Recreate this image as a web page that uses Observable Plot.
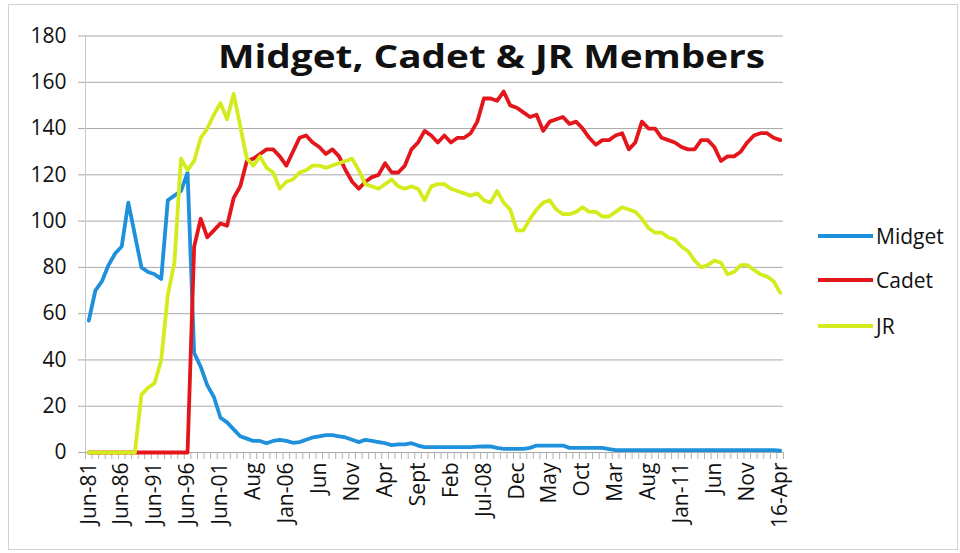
<!DOCTYPE html>
<html>
<head>
<meta charset="utf-8">
<script src="https://cdn.jsdelivr.net/npm/d3@7"></script>
<script src="https://cdn.jsdelivr.net/npm/@observablehq/plot@0.6"></script>
<style>
  html, body { margin: 0; padding: 0; background: #fff; }
  #wrap { position: relative; width: 960px; height: 553px; overflow: hidden; background: #fff; }
  #wrap svg { position: absolute; left: 0; top: 0; }
  #border { position: absolute; left: 8px; top: 4px; width: 950px; height: 546px; border: 1px solid #d2d2d2; box-sizing: border-box; pointer-events: none; }
  #title { position: absolute; left: 218px; top: 36px; font-family: "Open Sans", sans-serif; font-weight: 700; font-size: 33px; line-height: 40px; color: #111; white-space: nowrap; transform-origin: 0 0; }
  .leg { position: absolute; left: 818px; height: 30px; display: flex; align-items: center; font-family: "Open Sans", sans-serif; font-size: 21px; color: #111; }
  .leg .sw { width: 55px; height: 4px; margin-right: 3px; }
</style>
</head>
<body>
<div id="wrap">
  <div id="border"></div>
  <div id="title">Midget, Cadet &amp; JR Members</div>
</div>
<script>
// Tick labels shown on the category axis (every 5th category)
const tickLabels = ["Jun-81","Jun-86","Jun-91","Jun-96","Jun-01","Aug","Jan-06","Jun","Nov","Apr","Sept","Feb","Jul-08","Dec","May","Oct","Mar","Aug","Jan-11","Jun","Nov","16-Apr"];

const seriesNames = ["Midget", "Cadet", "JR"];
const seriesColors = ["#1e90dc", "#e3161c", "#d4ec1e"];

const midget = [
  57,70,74,81,86,89,108,94,80,78,77,75,109,111,113,121,
  43,37,29,24,15,13,10,7,6,5,
  5,4,5,5.5,5,4.2,4.5,5.5,6.5,7,
  7.5,7.5,7,6.5,5.5,4.5,5.5,5,4.5,4,
  3.2,3.5,3.5,4,3,2.3,2.3,2.3,2.3,2.3,
  2.3,2.3,2.3,2.5,2.6,2.6,2,1.6,1.6,1.6,
  1.6,2,3,3,3,3,3,2,2,2,
  2,2,2,1.5,1,1,1,1,1,1,
  1,1,1,1,1,1,1,1,1,1,
  1,1,1,1,1,1,1,1,1,0.8
];
const cadet = [
  0,0,0,0,0,0,0,0,0,0,0,0,0,0,0,0,
  89,101,93,96,99,98,110,115,126,127,
  129,131,131,128,124,130,136,137,134,132,
  129,131,128,122,117,114,117,119,120,125,
  121,121,124,131,134,139,137,134,137,134,
  136,136,138,143,153,153,152,156,150,149,
  147,145,146,139,143,144,145,142,143,140,
  136,133,135,135,137,138,131,134,143,140,
  140,136,135,134,132,131,131,135,135,132,
  126,128,128,130,134,137,138,138,136,135
];
const jr = [
  0,0,0,0,0,0,0,0,
  25,28,30,40,68,82,127,122,
  126,136,140,146,151,144,155,141,127,124,
  128,123,121,114,117,118,121,122,124,124,
  123,124,125,126,127,122,116,115,114,116,
  118,115,114,115,114,109,115,116,116,114,
  113,112,111,112,109,108,113,108,105,96,
  96,101,105,108,109,105,103,103,104,106,
  104,104,102,102,104,106,105,104,101,97,
  95,95,93,92,89,87,83,80,81,83,
  82,77,78,81,81,79,77,76,74,69
];
const yTicks = [0,20,40,60,80,100,120,140,160,180];

const seriesValues = [midget, cadet, jr];
const n = midget.length;
const rows = seriesValues.flatMap((vals, s) => vals.map((v, i) => ({i, v, s: seriesNames[s]})));
const xDomain = [-0.5, n - 0.5];
const boundaryTicks = d3.range(n + 1).map(k => k - 0.5);
const labelTicks = tickLabels.map((_, k) => k * 5);

const chart = Plot.plot({
  width: 960,
  height: 553,
  marginLeft: 85,
  marginRight: 177,
  marginTop: 35.5,
  marginBottom: 101,
  style: { background: "transparent", fontFamily: "'Open Sans', sans-serif", fontSize: "20px", color: "#111" },
  x: { domain: xDomain, axis: null, label: null },
  y: { domain: [0, 180], axis: null, label: null },
  color: { domain: seriesNames, range: seriesColors },
  marks: [
    Plot.gridY({ ticks: yTicks, stroke: "#a8a8a8", strokeOpacity: 1, strokeWidth: 1 }),
    Plot.ruleX([xDomain[0]], { stroke: "#c8c8c8", strokeWidth: 1 }),
    Plot.axisY({ ticks: yTicks, label: null, tickSize: 7, tickPadding: 12, stroke: "#a8a8a8", fill: "#111",
                 fontSize: 21, fontFamily: "'Liberation Sans Narrow', 'Open Sans', sans-serif" }),
    Plot.ruleY([0], { stroke: "#a8a8a8", strokeWidth: 1 }),
    Plot.axisX({ ticks: boundaryTicks, label: null, tickSize: 7, tickFormat: () => "", stroke: "#b0b0b0" }),
    Plot.axisX({ ticks: labelTicks, label: null, tickSize: 0, tickPadding: 10, tickRotate: -90,
                 tickFormat: d => tickLabels[d / 5], fontSize: 21, fill: "#111" }),
    Plot.lineY(rows, { x: "i", y: "v", z: "s", stroke: "s", strokeWidth: 3.8, strokeLinejoin: "round", strokeLinecap: "round" })
  ]
});
const wrap = document.getElementById("wrap");
wrap.insertBefore(chart, wrap.firstChild);

// Legend
const legendTops = [221, 265, 311];
seriesNames.forEach((name, k) => {
  const d = document.createElement("div");
  d.className = "leg";
  d.style.top = legendTops[k] + "px";
  d.innerHTML = `<span class="sw" style="background:${seriesColors[k]}"></span><span>${name}</span>`;
  wrap.appendChild(d);
});

// Fit title width to the reference span
const title = document.getElementById("title");
const w = title.getBoundingClientRect().width;
title.style.transform = `scaleX(${547 / w})`;
</script>
</body>
</html>
